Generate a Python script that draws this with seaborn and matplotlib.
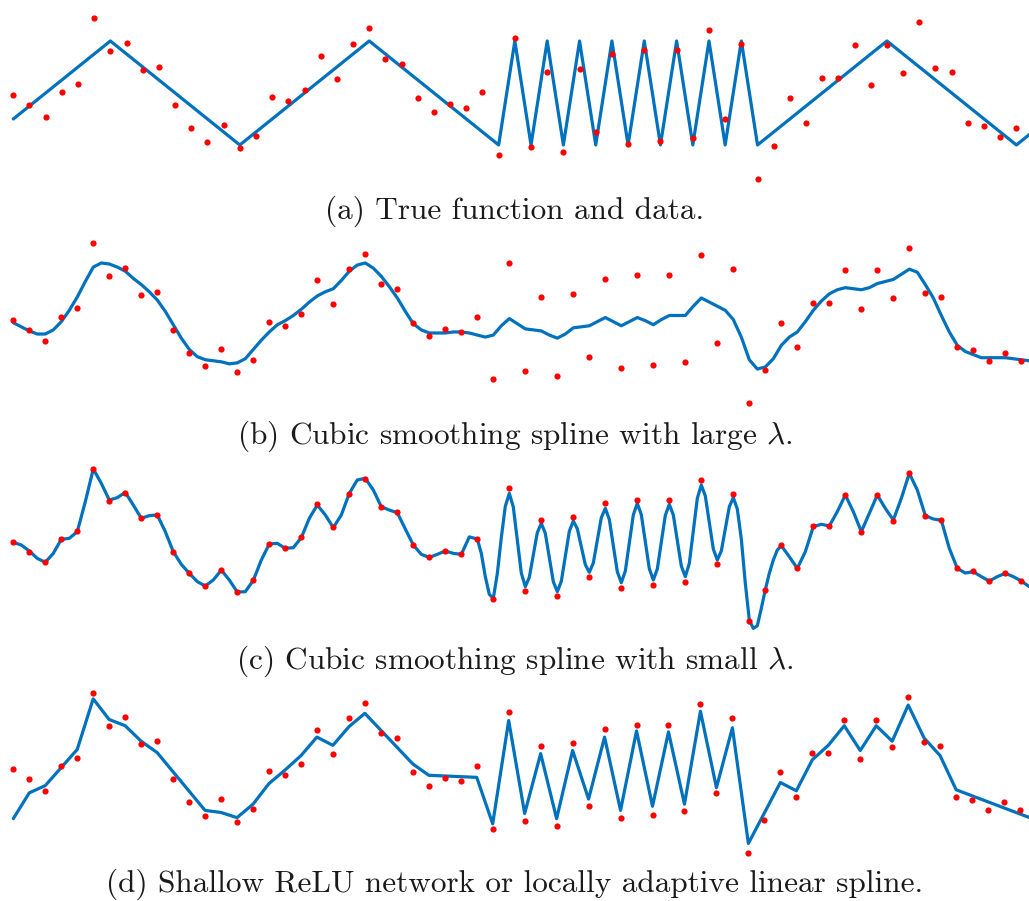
import matplotlib

matplotlib.use("Agg")
import matplotlib.pyplot as plt
import numpy as np
import seaborn as sns

BLUE = "#0072bd"
RED = "#ff0000"

# noisy samples, same in every panel
data_x = np.arange(64)
data_y = [
    0.48, 0.38, 0.27, 0.51, 0.59, 1.22, 0.90, 0.98, 0.72, 0.75,
    0.38, 0.16, 0.03, 0.19, -0.03, 0.09, 0.46, 0.42, 0.53, 0.86,
    0.63, 0.97, 1.12, 0.83, 0.78, 0.45, 0.32, 0.39, 0.36, 0.51,
    -0.10, 1.03, -0.02, 0.70, -0.07, 0.73, 0.12, 0.87, 0.01, 0.91,
    0.04, 0.91, 0.07, 1.11, 0.25, 0.97, -0.33, -0.01, 0.45, 0.21,
    0.64, 0.64, 0.96, 0.58, 0.96, 0.69, 1.18, 0.74, 0.70, 0.21,
    0.18, 0.08, 0.16, 0.08,
]

# (a) true function, knots of the piecewise linear curve
true_x = [0, 6, 14, 22, 30, 31, 32, 33, 34, 35, 36, 37, 38, 39, 40, 41, 42,
          43, 44, 45, 46, 54, 62, 63]
true_y = [0.25, 1, 0, 1, 0, 1, 0, 1, 0, 1, 0, 1, 0, 1, 0, 1, 0,
          1, 0, 1, 0, 1, 0, 0.125]

# (b) smoothing spline, large lambda (read every half step)
large_x = np.arange(0, 64, 0.5)
large_y = [
    0.45, 0.41, 0.37, 0.34, 0.34, 0.38, 0.46, 0.57, 0.70, 0.85,
    0.99, 1.03, 1.02, 0.99, 0.95, 0.88, 0.82, 0.75, 0.67, 0.56,
    0.43, 0.30, 0.19, 0.12, 0.09, 0.08, 0.07, 0.05, 0.06, 0.10,
    0.19, 0.28, 0.36, 0.43, 0.47, 0.52, 0.58, 0.65, 0.71, 0.75,
    0.78, 0.86, 0.95, 1.01, 1.03, 0.98, 0.90, 0.80, 0.69, 0.56,
    0.44, 0.38, 0.35, 0.35, 0.35, 0.36, 0.36, 0.35, 0.33, 0.31,
    0.33, 0.42, 0.49, 0.44, 0.39, 0.38, 0.37, 0.33, 0.30, 0.34,
    0.40, 0.41, 0.42, 0.46, 0.50, 0.46, 0.42, 0.46, 0.50, 0.47,
    0.43, 0.48, 0.52, 0.52, 0.52, 0.61, 0.69, 0.65, 0.61, 0.57,
    0.48, 0.31, 0.09, 0.00, 0.02, 0.10, 0.23, 0.31, 0.36, 0.46,
    0.57, 0.66, 0.73, 0.77, 0.79, 0.78, 0.77, 0.79, 0.83, 0.85,
    0.87, 0.92, 0.97, 0.94, 0.82, 0.69, 0.52, 0.36, 0.23, 0.17,
    0.14, 0.11, 0.11, 0.11, 0.11, 0.10, 0.09, 0.08,
]

# (c) smoothing spline, small lambda (quarter steps where it oscillates)
small_x = np.r_[np.arange(0, 29, 0.5), np.arange(29, 48, 0.25), np.arange(48, 64, 0.5)]
small_y = [
    0.474, 0.447, 0.386, 0.311, 0.271, 0.362, 0.505, 0.515, 0.583, 0.888,
    1.221, 1.075, 0.905, 0.929, 0.983, 0.854, 0.719, 0.746, 0.753, 0.583,
    0.379, 0.250, 0.159, 0.074, 0.030, 0.091, 0.192, 0.091, -0.032, -0.028,
    0.087, 0.294, 0.457, 0.464, 0.413, 0.420, 0.522, 0.719, 0.854, 0.753,
    0.624, 0.753, 0.973, 1.109, 1.126, 1.007, 0.837, 0.803, 0.776, 0.610,
    0.447, 0.352, 0.321, 0.352, 0.386, 0.362, 0.352, 0.530,
    # 29 .. 47.75
    0.508, 0.362, 0.125, -0.055,
    -0.096, 0.155, 0.522, 0.841,
    0.973, 0.834, 0.498, 0.162,
    0.023, 0.118, 0.345, 0.573,
    0.668, 0.566, 0.321, 0.074,
    -0.028, 0.077, 0.332, 0.586,
    0.691, 0.613, 0.430, 0.247,
    0.169, 0.264, 0.495, 0.725,
    0.820, 0.708, 0.444, 0.175,
    0.063, 0.182, 0.467, 0.753,
    0.871, 0.756, 0.481, 0.206,
    0.091, 0.203, 0.478, 0.749,
    0.861, 0.753, 0.495, 0.233,
    0.125, 0.260, 0.593, 0.922,
    1.058, 0.946, 0.678, 0.406,
    0.294, 0.386, 0.613, 0.837,
    0.929, 0.814, 0.508, 0.057,
    -0.317, -0.402, -0.375, -0.198,
    -0.008, 0.159, 0.294, 0.396,
    # 48 .. 63.5
    0.440, 0.328, 0.209, 0.379, 0.634, 0.658, 0.641, 0.787, 0.956, 0.787,
    0.583, 0.770, 0.956, 0.820, 0.702, 0.922, 1.177, 1.007, 0.746, 0.712,
    0.698, 0.413, 0.209, 0.162, 0.175, 0.125, 0.080, 0.125, 0.159, 0.125,
    0.080, 0.023,
]

# (d) shallow ReLU net / adaptive linear spline, knots
relu_x = [0, 1, 2, 4, 5, 6, 7, 8, 9, 12, 13, 14, 15, 16, 17, 18, 19, 20, 21,
          22, 25, 26, 29, 30, 31, 32, 33, 34, 35, 36, 37, 38, 39, 40, 41, 42,
          43, 44, 45, 46, 48, 49, 50, 51, 52, 53, 54, 55, 56, 57, 58, 59, 63.6]
relu_y = [0.00, 0.25, 0.32, 0.67, 1.16, 0.96, 0.90, 0.75, 0.64, 0.08, 0.06,
          0.01, 0.14, 0.34, 0.47, 0.61, 0.79, 0.71, 0.89, 1.02, 0.53, 0.42,
          0.40, -0.05, 0.95, 0.05, 0.63, 0.00, 0.66, 0.19, 0.79, 0.08, 0.85,
          0.12, 0.84, 0.14, 1.04, 0.30, 0.88, -0.24, 0.35, 0.27, 0.57, 0.71,
          0.90, 0.66, 0.90, 0.75, 1.10, 0.78, 0.61, 0.28, 0.01]

captions = [
    "(a) True function and data.",
    r"(b) Cubic smoothing spline with large $\lambda$.",
    r"(c) Cubic smoothing spline with small $\lambda$.",
    "(d) Shallow ReLU network or locally adaptive linear spline.",
]
curves = [(true_x, true_y), (large_x, large_y), (small_x, small_y), (relu_x, relu_y)]

W, H = 1029, 901
# pixel band (top, bottom), ylim, xlim, caption baseline (px)
layout = [
    ((0, 195), (-0.481, 1.394), (-0.822, 62.78), 219),
    ((226, 420), (-0.495, 1.389), (-0.831, 63.48), 444),
    ((452, 645), (-0.571, 1.394), (-0.831, 63.48), 669),
    ((675, 870), (-0.497, 1.391), (-0.832, 63.56), 892),
]

sns.set_style("white")
plt.rcParams["font.family"] = ["cmr10", "DejaVu Serif"]
plt.rcParams["mathtext.fontset"] = "cm"
plt.rcParams["axes.unicode_minus"] = False

fig = plt.figure(figsize=(W / 100, H / 100), dpi=100)

for (cx, cy), caption, (band, ylim, xlim, base) in zip(curves, captions, layout):
    top, bottom = band
    ax = fig.add_axes([0, 1 - bottom / H, 1, (bottom - top) / H])
    sns.lineplot(x=cx, y=cy, ax=ax, color=BLUE, linewidth=2.3,
                 estimator=None, sort=False)
    sns.scatterplot(x=data_x, y=data_y, ax=ax, color=RED, s=20,
                    linewidth=0, zorder=3)
    ax.set_xlim(*xlim)
    ax.set_ylim(*ylim)
    ax.set_axis_off()
    fig.text(0.5, 1 - base / H, caption, ha="center", va="baseline",
             fontsize=22.5, color="#1a1a1a")

fig.savefig("out.png", dpi=100)
